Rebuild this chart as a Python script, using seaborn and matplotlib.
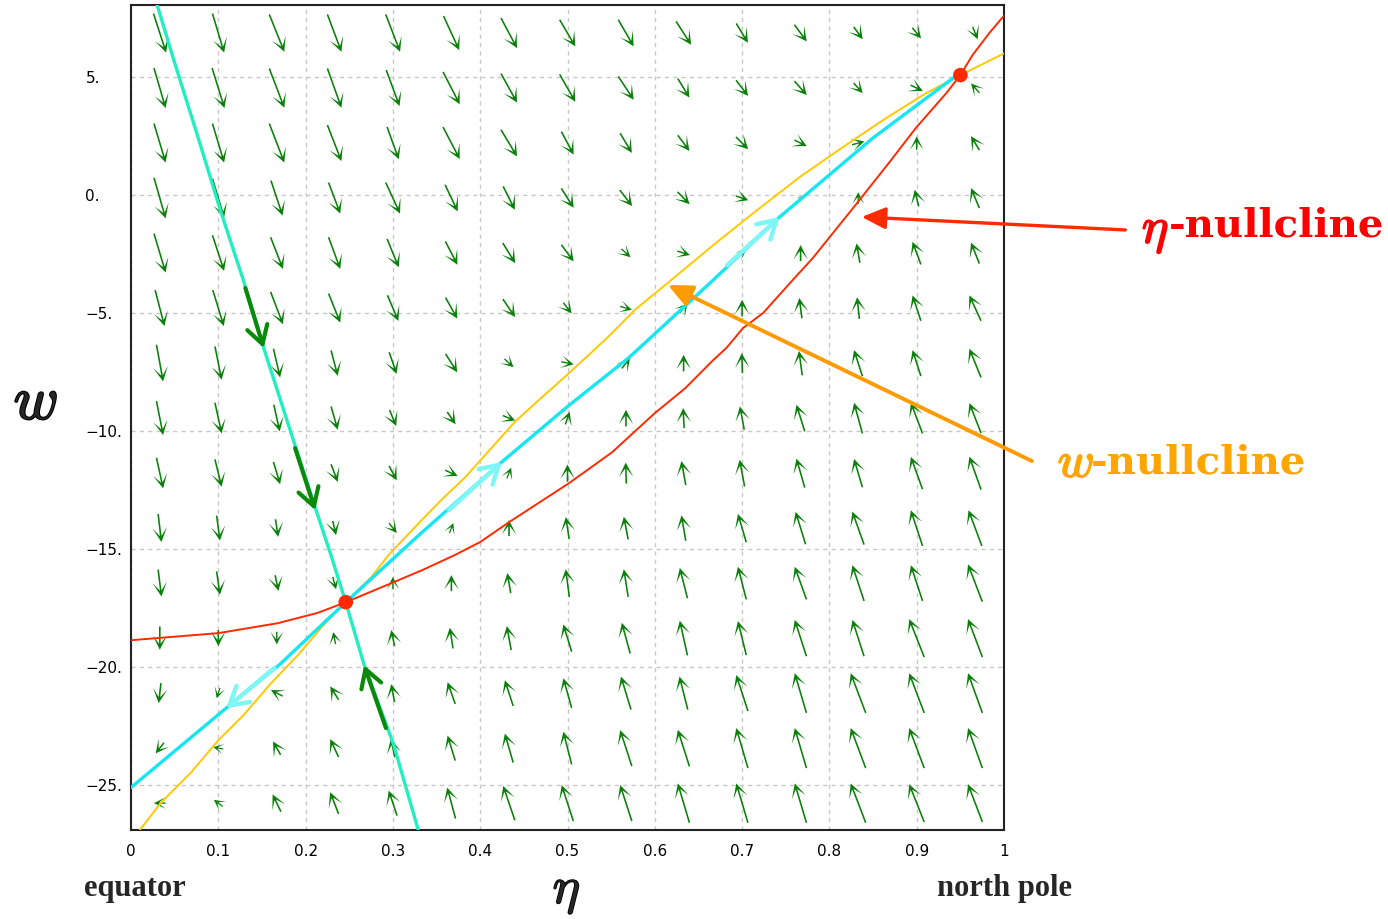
import numpy as np
import pandas as pd
import matplotlib
matplotlib.use("Agg")
import matplotlib.pyplot as plt
from matplotlib.patches import ArrowStyle
from matplotlib import patheffects as pe
import seaborn as sns

sns.set_theme(style="white")
plt.rcParams['font.family'] = ['DejaVu Sans']
plt.rcParams['mathtext.fontset'] = 'cm'

# ---------------- data ----------------
eta_grid = [0.033, 0.1, 0.167, 0.233, 0.3, 0.367, 0.433, 0.5, 0.567, 0.633, 0.7, 0.767, 0.833, 0.9, 0.967]
w_grid = [6.86, 4.53, 2.2, -0.13, -2.46, -4.79, -7.12, -9.45, -11.78, -14.11, -16.44, -18.77, -21.1, -23.43, -25.76]

# vector components (screen units, right / up), one row per w_grid entry
U_field = [
    [38, 35, 45, 42, 43, 47, 48, 47, 46, 45, 35, 37, 27, 26, 15],
    [35, 37, 45, 42, 40, 50, 48, 47, 46, 35, 36, 37, 27, 37, -25],
    [35, 35, 45, 42, 35, 50, 48, 37, 35, 35, 37, 37, 37, 0, -25],
    [35, 35, 35, 35, 43, 38, 35, 37, 37, 36, 37, 15, 0, -12, -25],
    [35, 35, 37, 35, 35, 36, 37, 37, 27, 38, 23, 0, -10, -25, -25],
    [28, 33, 37, 35, 33, 35, 37, 25, 35, 24, 0, -8, -7, -25, -35],
    [20, 20, 20, 20, 22, 35, 27, 37, 25, 0, -2, -10, -25, -25, -35],
    [20, 20, 18, 20, 20, 25, 37, 13, 0, -3, -13, -25, -25, -35, -35],
    [20, 20, 20, 20, 23, 37, 13, 0, -2, -13, -15, -25, -25, -35, -35],
    [10, 10, 8, 10, 23, 12, 0, -10, -13, -13, -25, -30, -35, -35, -40],
    [10, 10, 10, 10, 0, 0, -10, -11, -13, -23, -25, -35, -35, -35, -43],
    [0, 0, 0, -7, -10, -10, -13, -25, -25, -23, -25, -35, -35, -45, -43],
    [-7, -10, -35, -25, -10, -23, -25, -25, -30, -25, -35, -35, -45, -45, -43],
    [-25, -30, -23, -25, -12, -23, -25, -25, -35, -35, -35, -35, -45, -45, -43],
    [-35, -27, -25, -25, -25, -25, -35, -35, -35, -35, -35, -35, -45, -45, -43],
]
V_field = [
    [-117, -117, -112, -112, -112, -102, -90, -80, -80, -70, -58, -50, -37, -32, -37],
    [-120, -120, -118, -118, -108, -97, -87, -82, -70, -57, -47, -42, -30, -18, 28],
    [-117, -117, -117, -108, -97, -96, -80, -69, -59, -47, -37, -18, 10, 40, 42],
    [-122, -117, -105, -93, -93, -80, -70, -58, -48, -37, -13, 10, 35, 50, 60],
    [-117, -107, -95, -95, -85, -70, -60, -50, -25, -12, 18, 48, 58, 68, 63],
    [-108, -108, -97, -87, -77, -63, -54, -32, -10, 30, 50, 61, 65, 76, 76],
    [-110, -100, -86, -76, -65, -55, -25, -8, 32, 50, 60, 73, 78, 78, 86],
    [-102, -92, -80, -70, -48, -37, -15, 38, 50, 60, 70, 80, 92, 92, 90],
    [-92, -82, -67, -53, -43, -17, 32, 52, 63, 72, 80, 87, 85, 97, 99],
    [-84, -75, -53, -42, -30, 30, 48, 66, 68, 76, 85, 97, 99, 107, 107],
    [-81, -70, -47, -37, 37, 48, 60, 83, 83, 91, 98, 98, 107, 107, 112],
    [-70, -48, -38, 36, 48, 62, 72, 82, 92, 104, 102, 109, 109, 114, 114],
    [-60, -31, 18, 40, 53, 65, 77, 89, 99, 99, 108, 119, 119, 119, 119],
    [-32, 6, 40, 54, 55, 75, 87, 98, 108, 110, 120, 120, 120, 120, 120],
    [0, 20, 52, 65, 75, 93, 103, 108, 108, 118, 118, 118, 118, 113, 113],
]

# eta-nullcline (red)
eta_null_eta = [0.0, 0.1, 0.168, 0.214, 0.246, 0.301, 0.333, 0.371, 0.40, 0.433, 0.502, 0.551, 0.600,
                0.635, 0.667, 0.682, 0.701, 0.724, 0.758, 0.781, 0.830, 0.869, 0.899, 0.934, 0.950,
                0.964, 0.984, 1.0]
eta_null_w = [-18.86, -18.56, -18.14, -17.7, -17.25, -16.4, -15.9, -15.25, -14.7, -13.86, -12.2, -10.9,
              -9.24, -8.18, -6.99, -6.48, -5.64, -5.0, -3.6, -2.67, -0.42, 1.4, 2.84, 4.32, 5.08,
              5.93, 6.9, 7.6]
# w-nullcline (yellow)
w_null_eta = [0.008, 0.034, 0.069, 0.1, 0.129, 0.160, 0.191, 0.221, 0.246, 0.275, 0.295, 0.333, 0.356,
              0.383, 0.44, 0.471, 0.497, 0.528, 0.551, 0.577, 0.616, 0.667, 0.713, 0.766, 0.819,
              0.865, 0.911, 0.95, 1.0]
w_null_w = [-27.0, -25.76, -24.45, -23.1, -22.03, -20.7, -19.5, -18.2, -17.25, -16.2, -15.25, -13.77,
            -12.9, -11.95, -9.6, -8.56, -7.7, -6.65, -5.85, -4.87, -3.69, -2.12, -0.76, 0.76, 2.12,
            3.26, 4.32, 5.08, 6.0]
# unstable manifold (cyan)
unst_eta = [0.0, 0.107, 0.170, 0.246, 0.333, 0.425, 0.502, 0.570, 0.667, 0.743, 0.850, 0.942, 0.950]
unst_w = [-25.1, -21.8, -19.9, -17.25, -14.3, -11.3, -8.9, -6.9, -3.6, -0.93, 2.42, 4.96, 5.08]
# stable manifold (turquoise)
st_eta = [0.030, 0.049, 0.077, 0.103, 0.128, 0.152, 0.187, 0.212, 0.229, 0.246, 0.267, 0.301, 0.329]
st_w = [8.05, 5.72, 2.42, -0.72, -3.52, -6.48, -10.5, -13.35, -15.25, -17.25, -19.9, -23.3, -26.9]
# equilibria
fp_eta = [0.246, 0.950]
fp_w = [-17.25, 5.08]
# flow-direction arrows on the manifolds: (tail_eta, tail_w, head_eta, head_w)
green_arrows = [(0.131, -3.94, 0.152, -6.48), (0.188, -10.72, 0.211, -13.35), (0.292, -22.58, 0.267, -19.92)]
cyan_arrows = [(0.364, -13.35, 0.425, -11.31), (0.683, -2.97, 0.743, -0.93), (0.164, -20.04, 0.109, -21.74)]

x_ticks = [0, 0.1, 0.2, 0.3, 0.4, 0.5, 0.6, 0.7, 0.8, 0.9, 1]
x_ticklabels = ["0", "0.1", "0.2", "0.3", "0.4", "0.5", "0.6", "0.7", "0.8", "0.9", "1"]
y_ticks = [-25, -20, -15, -10, -5, 0, 5]
y_ticklabels = ["\u221225.", "\u221220.", "\u221215.", "\u221210.", "\u22125.", "0.", "5."]

# ---------------- figure ----------------
fig = plt.figure(figsize=(13.88, 9.19), dpi=100)
ax = fig.add_axes([131 / 1388, 1 - 830 / 919, 873 / 1388, 825 / 919])
ax.set_xlim(0, 1)
ax.set_ylim(-26.9, 8.05)

ax.set_xticks(x_ticks)
ax.set_xticklabels(x_ticklabels)
ax.set_yticks(y_ticks)
ax.set_yticklabels(y_ticklabels)
ax.grid(True, color="#c8c8c8", linestyle=(0, (3, 3)), linewidth=1.0)
ax.tick_params(axis="both", length=4.3, width=1, colors="black", labelsize=11)
ax.tick_params(axis="x", direction="in", pad=10)
ax.tick_params(axis="y", direction="out", pad=28.5)
for lab in ax.get_yticklabels():
    lab.set_horizontalalignment("left")
for sp in ax.spines.values():
    sp.set_color("#222222")
    sp.set_linewidth(1.5)

# vector field
EE, WW = np.meshgrid(eta_grid, w_grid)
ax.quiver(EE, WW, np.array(U_field, float), np.array(V_field, float),
          pivot="middle", angles="uv", scale_units="dots", scale=3,
          units="dots", width=1.6, headwidth=9, headlength=9, headaxislength=3.8,
          color="#0a800a", zorder=2)

# curves
sns.lineplot(x=eta_null_eta, y=eta_null_w, sort=False, estimator=None, ax=ax, color="#ff2a00", linewidth=1.4, zorder=3)
sns.lineplot(x=w_null_eta, y=w_null_w, sort=False, estimator=None, ax=ax, color="#ffc800", linewidth=1.4, zorder=3)
sns.lineplot(x=unst_eta, y=unst_w, sort=False, estimator=None, ax=ax, color="#16e6f0", linewidth=2.4, zorder=4)
sns.lineplot(x=st_eta, y=st_w, sort=False, estimator=None, ax=ax, color="#22eec0", linewidth=2.4, zorder=4)
sns.scatterplot(x=fp_eta, y=fp_w, ax=ax, color="#ff2a00", s=110, edgecolor="none", zorder=6)

big_style = ArrowStyle("->", head_length=0.85, head_width=0.5)
for t0, w0, t1, w1 in green_arrows:
    ax.annotate("", xy=(t1, w1), xytext=(t0, w0),
                arrowprops=dict(arrowstyle=big_style, mutation_scale=15, color="#0a8a0a", lw=3.0,
                                shrinkA=0, shrinkB=0), zorder=7)
for t0, w0, t1, w1 in cyan_arrows:
    ax.annotate("", xy=(t1, w1), xytext=(t0, w0),
                arrowprops=dict(arrowstyle=big_style, mutation_scale=15, color="#7ff6f6", lw=3.2,
                                shrinkA=0, shrinkB=0), zorder=7)

# callouts
call_style = ArrowStyle("-|>", head_length=1.2, head_width=0.55)
ax.annotate("", xy=(0.837, -0.93), xytext=(1.139, -1.48), annotation_clip=False,
            arrowprops=dict(arrowstyle=call_style, mutation_scale=12, color="#ff2a00", lw=2.4,
                            shrinkA=0, shrinkB=0), zorder=8)
ax.annotate("", xy=(0.615, -3.81), xytext=(1.032, -11.27), annotation_clip=False,
            arrowprops=dict(arrowstyle=call_style, mutation_scale=12, color="#ff9a00", lw=2.8,
                            shrinkA=0, shrinkB=0), zorder=8)

bold_stroke = lambda c: [pe.withStroke(linewidth=1.3, foreground=c)]
ax.text(1.158, -1.55, r"$\eta$", color="#ff0000", fontsize=36, ha="left", va="center",
        clip_on=False, path_effects=bold_stroke("#ff0000"))
ax.text(1.1885, -1.30, "-nullcline", color="#ff0000", fontsize=29,
        fontfamily="DejaVu Serif", fontweight="bold", ha="left", va="center", clip_on=False)
ax.text(1.0615, -11.35, r"$w$", color="#ffa500", fontsize=36, ha="left", va="center",
        clip_on=False, path_effects=bold_stroke("#ffa500"))
ax.text(1.0995, -11.35, "-nullcline", color="#ffa500", fontsize=29,
        fontfamily="DejaVu Serif", fontweight="bold", ha="left", va="center", clip_on=False)

# axis labels
ax.set_ylabel(r"$w$", fontsize=44, rotation=0, labelpad=0)
ax.yaxis.set_label_coords(-0.109, 0.518)
ax.yaxis.label.set_va("center")
ax.yaxis.label.set_path_effects([pe.withStroke(linewidth=1.5, foreground="black")])
ax.set_xlabel(r"$\eta$", fontsize=37)
ax.xaxis.set_label_coords(0.499, -0.0745)
ax.xaxis.label.set_va("center")
ax.xaxis.label.set_path_effects([pe.withStroke(linewidth=1.2, foreground="black")])

ax.text(0.0046, -0.0715, "equator", transform=ax.transAxes, ha="center", va="center",
        fontsize=22, fontfamily="Liberation Serif", fontweight="bold")
ax.text(1.001, -0.0715, "north pole", transform=ax.transAxes, ha="center", va="center",
        fontsize=22, fontfamily="Liberation Serif", fontweight="bold")

fig.savefig("out.png", dpi=100)
